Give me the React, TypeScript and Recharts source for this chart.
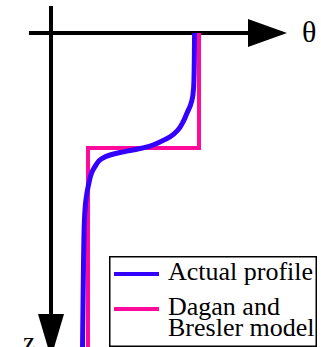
import React from "react";
import {
  ComposedChart,
  Line,
  XAxis,
  YAxis,
  ReferenceLine,
  ReferenceDot,
  Legend,
} from "recharts";

// water content θ (x) against depth z (y, downward)
const actualTheta = [
  0.97, 0.966, 0.959, 0.943, 0.919, 0.892, 0.858, 0.804, 0.736, 0.669, 0.601,
  0.534, 0.466, 0.399, 0.338, 0.304, 0.277, 0.253, 0.236, 0.226, 0.22, 0.213,
];
const actualZ = [
  0, 0.409, 0.539, 0.626, 0.696, 0.774, 0.843, 0.904, 0.948, 0.983, 1.004,
  1.022, 1.039, 1.061, 1.096, 1.148, 1.209, 1.322, 1.452, 1.626, 1.974, 2.73,
];

const modelTheta = [1, 1, 0.25, 0.25];
const modelZ = [0, 1, 1, 2.73];

const seriesNames = ["Actual profile", "Dagan and\nBresler model"];
const axisLabels = ["θ", "z"];

const actualData = actualTheta.map((t, i) => ({ theta: t, z: actualZ[i] }));
const modelData = modelTheta.map((t, i) => ({ theta: t, z: modelZ[i] }));

const BLUE = "#3300ff";
const PINK = "#ff0a9a";
const FONT = "'Liberation Serif', 'Times New Roman', serif";

// arrow head pointing right, anchored at its base
const RightHead = (props: any) => {
  const { cx, cy } = props;
  return (
    <g>
      <polygon
        points={`${cx},${cy - 14} ${cx},${cy + 14} ${cx + 39},${cy}`}
        fill="#000"
      />
      <text x={cx + 54} y={cy + 9} fontFamily={FONT} fontSize={30} fill="#000">
        {axisLabels[0]}
      </text>
    </g>
  );
};

// arrow head pointing down, anchored at its base
const DownHead = (props: any) => {
  const { cx, cy } = props;
  return (
    <g>
      <polygon
        points={`${cx - 13},${cy} ${cx + 13},${cy} ${cx},${cy + 44}`}
        fill="#000"
      />
      <text x={cx - 28} y={cy + 37} fontFamily={FONT} fontSize={27} fill="#000">
        {axisLabels[1]}
      </text>
    </g>
  );
};

const LegendBox = (props: any) => {
  const { payload } = props;
  const rows = [
    { lineY: 18, textY: [24] },
    { lineY: 53, textY: [59, 80] },
  ];
  return (
    <svg width={208} height={91} style={{ display: "block" }}>
      <rect x={0.75} y={0.75} width={206.5} height={89.5} fill="#fff" stroke="#000" strokeWidth={1.5} />
      {(payload || []).map((entry: any, i: number) => {
        const r = rows[i];
        if (!r) return null;
        const lines = String(entry.value).split("\n");
        return (
          <g key={i}>
            <line x1={5} x2={50} y1={r.lineY} y2={r.lineY} stroke={entry.color} strokeWidth={4} />
            {lines.map((s, j) => (
              <text key={j} x={59} y={r.textY[j]} fontFamily={FONT} fontSize={26} fill="#000">
                {s}
              </text>
            ))}
          </g>
        );
      })}
    </svg>
  );
};

export default function App() {
  return (
    <div style={{ position: "absolute", left: 0, top: 0, width: 321, height: 347, background: "#fff" }}>
      <ComposedChart
        width={321}
        height={347}
        layout="vertical"
        margin={{ top: 0, right: 0, bottom: 0, left: 0 }}
      >
        <XAxis type="number" dataKey="theta" domain={[-51 / 148, 270 / 148]} hide allowDataOverflow />
        <YAxis type="number" dataKey="z" domain={[-33 / 115, 314 / 115]} hide allowDataOverflow />

        {/* axes drawn as arrows */}
        <ReferenceLine
          segment={[{ x: -0.149, y: 0 }, { x: 1.34, y: 0 }]}
          stroke="#000"
          strokeWidth={4}
          ifOverflow="visible"
        />
        <ReferenceLine
          segment={[{ x: 0, y: -0.235 }, { x: 0, y: 2.46 }]}
          stroke="#000"
          strokeWidth={4}
          ifOverflow="visible"
        />
        <ReferenceDot x={1.331} y={0} ifOverflow="visible" shape={RightHead} />
        <ReferenceDot x={0} y={2.443} ifOverflow="visible" shape={DownHead} />

        <Line
          data={modelData}
          dataKey="theta"
          name={seriesNames[1]}
          type="linear"
          stroke={PINK}
          strokeWidth={4}
          strokeLinejoin="miter"
          dot={false}
          activeDot={false}
          isAnimationActive={false}
        />
        <Line
          data={actualData}
          dataKey="theta"
          name={seriesNames[0]}
          type="monotone"
          stroke={BLUE}
          strokeWidth={5}
          dot={false}
          activeDot={false}
          isAnimationActive={false}
        />
        <Legend
          layout="vertical"
          align="center"
          verticalAlign="middle"
          content={LegendBox}
          wrapperStyle={{ position: "absolute", left: 109, top: 256, width: 208, height: 91 }}
          payload={undefined}
        />
      </ComposedChart>
    </div>
  );
}
